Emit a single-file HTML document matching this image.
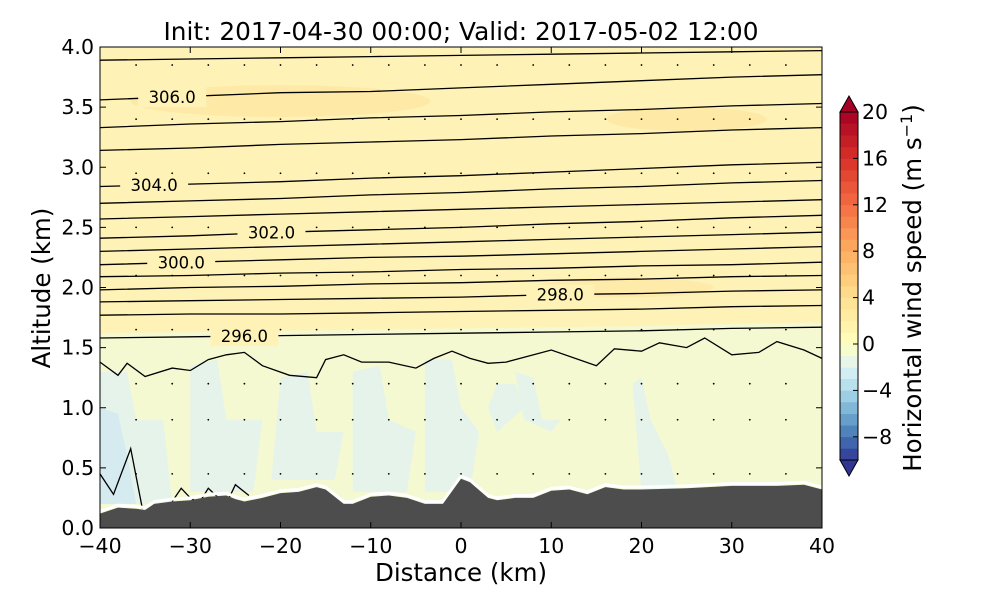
<!DOCTYPE html>
<html><head><meta charset="utf-8"><style>
body{margin:0;background:#fff;}
svg text{font-family:"DejaVu Sans","Liberation Sans",sans-serif;}
</style></head><body>
<svg id="chart" width="1000" height="600" xmlns="http://www.w3.org/2000/svg">
<text x="461" y="40" font-size="24.8" text-anchor="middle">Init: 2017-04-30 00:00; Valid: 2017-05-02 12:00</text>
<defs><clipPath id="pc"><rect x="100" y="47" width="722" height="481"/></clipPath></defs>
<g id="plot" clip-path="url(#pc)"></g>
<rect x="100" y="47" width="722" height="481" fill="none" stroke="#000" stroke-width="1"/>
<g id="axes"></g>
<g id="cbar"></g>
<text x="461" y="581" font-size="24.5" text-anchor="middle">Distance (km)</text>
<text transform="translate(50,288) rotate(-90)" font-size="24.5" text-anchor="middle">Altitude (km)</text>
<text transform="translate(921,288) rotate(-90)" font-size="24.5" text-anchor="middle">Horizontal wind speed (m s<tspan dy="-9" font-size="16">−1</tspan><tspan dy="9">)</tspan></text>
</svg>
<script>
const NS="http://www.w3.org/2000/svg";
// data
const xTicks=[-40,-30,-20,-10,0,10,20,30,40];
const yTicks=[0.0,0.5,1.0,1.5,2.0,2.5,3.0,3.5,4.0];
const cbTicks=[-8,-4,0,4,8,12,16,20];
const terrainX=[-40,-38,-36,-35,-34,-32,-30,-28,-26,-25,-24,-22,-20,-18,-16,-15,-13,-12,-10,-8,-6,-4,-2,0,1,3,4,6,8,10,12,14,16,18,20,25,30,35,38,40];
const terrainZ=[0.12,0.17,0.16,0.15,0.2,0.22,0.23,0.26,0.27,0.24,0.22,0.25,0.29,0.30,0.34,0.32,0.2,0.2,0.26,0.27,0.25,0.2,0.2,0.41,0.38,0.25,0.23,0.25,0.25,0.31,0.32,0.28,0.34,0.32,0.32,0.33,0.35,0.35,0.36,0.32];
const contourX=[-40,-30,-20,-10,0,10,20,30,40];
const contourLevels=[[3.89,3.90,3.91,3.92,3.93,3.94,3.95,3.96,3.97],
[3.56,3.59,3.62,3.63,3.66,3.69,3.72,3.75,3.77],
[3.33,3.36,3.38,3.41,3.43,3.46,3.48,3.51,3.53],
[3.14,3.16,3.19,3.21,3.23,3.26,3.28,3.31,3.33],
[2.84,2.86,2.88,2.91,2.93,2.96,2.99,3.02,3.04],
[2.70,2.72,2.74,2.77,2.79,2.82,2.84,2.87,2.89],
[2.57,2.59,2.61,2.63,2.65,2.67,2.69,2.71,2.73],
[2.41,2.43,2.46,2.48,2.50,2.53,2.55,2.58,2.60],
[2.30,2.32,2.34,2.36,2.38,2.40,2.42,2.44,2.46],
[2.19,2.21,2.23,2.25,2.26,2.28,2.30,2.32,2.34],
[2.09,2.10,2.12,2.13,2.15,2.16,2.18,2.19,2.21],
[1.98,2.00,2.01,2.03,2.04,2.06,2.07,2.09,2.10],
[1.88,1.89,1.90,1.91,1.92,1.94,1.95,1.97,1.98],
[1.77,1.78,1.78,1.79,1.80,1.81,1.82,1.84,1.85],
[1.58,1.59,1.60,1.61,1.62,1.63,1.64,1.66,1.67]];
const contourLabels=[null,"306.0",null,null,"304.0",null,null,"302.0",null,"300.0",null,null,"298.0",null,"296.0"];
const labelX=[null,-32,null,null,-34,null,null,-21,null,-31,null,null,11,null,-24];
const wavyX=[-40,-38,-37,-35,-32,-30,-28,-26,-24,-22,-19,-16,-15,-13,-11,-8,-5,-3,-1,1,3,5,10,15,17,20,22,25,27,30,33,35,38,40];
const wavyZ=[1.38,1.27,1.37,1.26,1.33,1.31,1.40,1.44,1.46,1.35,1.27,1.25,1.40,1.44,1.38,1.38,1.33,1.41,1.47,1.41,1.37,1.38,1.48,1.35,1.49,1.47,1.54,1.50,1.58,1.44,1.46,1.55,1.48,1.41];
const lowX=[-40,-38.5,-36.6,-35.3];
const lowZ=[0.45,0.28,0.66,0.16];
const bumps=[[-32,0.22],[-31,0.33],[-30,0.25],[-29,0.21],[-28,0.33],[-27,0.26],[-26,0.2],[-25,0.36],[-23.5,0.27]];
const blueX=[[-40,-37,-36,-33,-32,-40],[-30,-27,-26,-22,-23,-30],[-20,-17,-16,-13,-14,-21],[-12,-9,-8,-5,-6,-12],[-4,-1,0,2,1,-4],[6,8,9,11,10,7],[19,20,21,23,24,20],[5,6,7,4,3,4]];
const blueZ=[[1.3,1.3,0.9,0.9,0.2,0.2],[1.35,1.4,0.9,0.9,0.3,0.3],[1.25,1.3,0.8,0.8,0.4,0.4],[1.3,1.35,0.9,0.8,0.3,0.3],[1.4,1.4,1.0,0.8,0.3,0.3],[1.3,1.25,0.9,0.9,0.8,0.9],[1.2,1.25,0.9,0.6,0.3,0.3],[1.2,1.2,1.0,0.8,1.0,1.2]];
const dotX=[-36,-32,-28,-24,-20,-16,-12,-8,-4,0,4,8,12,16,20,24,28,32,36];
const dotZ=[0.45,0.9,1.2,1.65,2.1,2.5,2.95,3.4,3.85];

const X=v=>100+(v+40)*722/80, Y=v=>528-v*120.25;
const plot=document.getElementById('plot'), axes=document.getElementById('axes'), cb=document.getElementById('cbar');
function mk(tag,attrs,parent){const e=document.createElementNS(NS,tag);for(const k in attrs)e.setAttribute(k,attrs[k]);parent.appendChild(e);return e;}
function pts(xs,zs){return xs.map((x,i)=>X(x).toFixed(1)+','+Y(zs[i]).toFixed(1)).join(' ');}

let bg=mk('rect',{x:100,y:47,width:722,height:481,fill:'#fef2b6'},plot);


let low=mk('polygon',{points:pts(contourX,contourLevels[14].map(z=>z+0.04))+' '+X(40)+','+Y(0)+' '+X(-40)+','+Y(0),fill:'#f4f9d2'},plot);


blueX.forEach((bx,i)=>{
  let p=mk('polygon',{points:pts(bx,blueZ[i]),fill:'#e5f3eb'},plot);
  
  
});
let p2=mk('polygon',{points:pts([-40,-38,-37,-36,-40],[1.0,0.95,0.6,0.2,0.2]),fill:'#d6ebef'},plot);


let d1=mk('ellipse',{cx:X(-20),cy:Y(3.55),rx:150,ry:16,fill:'#feeaa6'},plot);


let d2=mk('ellipse',{cx:X(25),cy:Y(3.4),rx:80,ry:12,fill:'#feeaa6'},plot);


let d3=mk('ellipse',{cx:X(18),cy:Y(2.0),rx:90,ry:10,fill:'#feebaa'},plot);



dotX.forEach(dx=>dotZ.forEach(dz=>{
  let c=mk('circle',{cx:X(dx),cy:Y(dz),r:0.9,fill:'#000'},plot);
  
  
}));

contourLevels.forEach((zs,i)=>{
  let l=mk('polyline',{points:pts(contourX,zs),fill:'none',stroke:'#000','stroke-width':1.3},plot);
  
  
  if(contourLabels[i]){
    const lx=labelX[i];
    const k=(lx+40)/10, j=Math.floor(k), f=k-j;
    const z=zs[j]*(1-f)+zs[Math.min(j+1,8)]*f;
    let r=mk('rect',{x:X(lx)-34,y:Y(z)-10,width:68,height:20,fill:'#fef2b6'},plot);
    
    
    let t=mk('text',{x:X(lx),y:Y(z)+6,'font-size':16.5,'text-anchor':'middle'},plot);
    t.textContent=contourLabels[i];
    
    
  }
});
let w=mk('polyline',{points:pts(wavyX,wavyZ),fill:'none',stroke:'#000','stroke-width':1.3},plot);


let lw=mk('polyline',{points:pts(lowX,lowZ),fill:'none',stroke:'#000','stroke-width':1.3},plot);


let bp=mk('polyline',{points:pts(bumps.map(b=>b[0]),bumps.map(b=>b[1])),fill:'none',stroke:'#000','stroke-width':1.3},plot);



let tw=mk('polyline',{points:pts(terrainX,terrainZ.map(z=>z+0.02)),fill:'none',stroke:'#fff','stroke-width':3},plot);


let tr=mk('polygon',{points:pts(terrainX,terrainZ)+' '+X(40)+','+Y(0)+' '+X(-40)+','+Y(0),fill:'#4d4d4d'},plot);



xTicks.forEach(v=>{
  let t=mk('line',{x1:X(v),x2:X(v),y1:528,y2:522,stroke:'#000'},axes);
  
  
  let t2=mk('line',{x1:X(v),x2:X(v),y1:47,y2:53,stroke:'#000'},axes);
  
  
  let lb=mk('text',{x:X(v),y:553,'font-size':20.5,'text-anchor':'middle'},axes);
  lb.textContent=v<0?'−'+(-v):v;
  
  
});
yTicks.forEach(v=>{
  let t=mk('line',{x1:100,x2:106,y1:Y(v),y2:Y(v),stroke:'#000'},axes);
  
  
  let t2=mk('line',{x1:816,x2:822,y1:Y(v),y2:Y(v),stroke:'#000'},axes);
  
  
  let lb=mk('text',{x:94,y:Y(v)+7,'font-size':20.5,'text-anchor':'end'},axes);
  lb.textContent=v.toFixed(1);
  
  
});

const stops=[[0,[49,54,149]],[0.1,[69,117,180]],[0.2,[116,173,209]],[0.3,[171,217,233]],[0.4,[224,243,248]],[0.5,[255,255,191]],[0.6,[254,224,144]],[0.7,[253,174,97]],[0.8,[244,109,67]],[0.9,[215,48,39]],[1,[165,0,38]]];
function cmap(t){for(let i=0;i<stops.length-1;i++){if(t<=stops[i+1][0]){const f=(t-stops[i][0])/(stops[i+1][0]-stops[i][0]);const a=stops[i][1],b=stops[i+1][1];return 'rgb('+a.map((c,k)=>Math.round(c+(b[k]-c)*f)).join(',')+')';}}return 'rgb(165,0,38)';}
const norm=v=>v<0?0.5*(v+10)/10:0.5+0.5*v/20;
const CY=v=>344-v*11.6, cx0=840, cw=18;
for(let v=-10;v<20;v++){
  let r=mk('rect',{x:cx0,y:CY(v+1),width:cw,height:11.9,fill:cmap(norm(v+0.5))},cb);
  
  
}
let ta=mk('polygon',{points:`${cx0},${CY(20)} ${cx0+cw/2},${CY(20)-16} ${cx0+cw},${CY(20)}`,fill:cmap(1),stroke:'#000'},cb);


let tb=mk('polygon',{points:`${cx0},${CY(-10)} ${cx0+cw/2},${CY(-10)+16} ${cx0+cw},${CY(-10)}`,fill:cmap(0),stroke:'#000'},cb);


let fr=mk('rect',{x:cx0,y:CY(20),width:cw,height:CY(-10)-CY(20),fill:'none',stroke:'#000'},cb);


cbTicks.forEach(v=>{
  let t=mk('line',{x1:cx0+cw-5,x2:cx0+cw,y1:CY(v),y2:CY(v),stroke:'#000'},cb);
  
  
  let lb=mk('text',{x:862,y:CY(v)+7,'font-size':20.5},cb);
  lb.textContent=v<0?'−'+(-v):v;
  
  
});
</script>
</body></html>
